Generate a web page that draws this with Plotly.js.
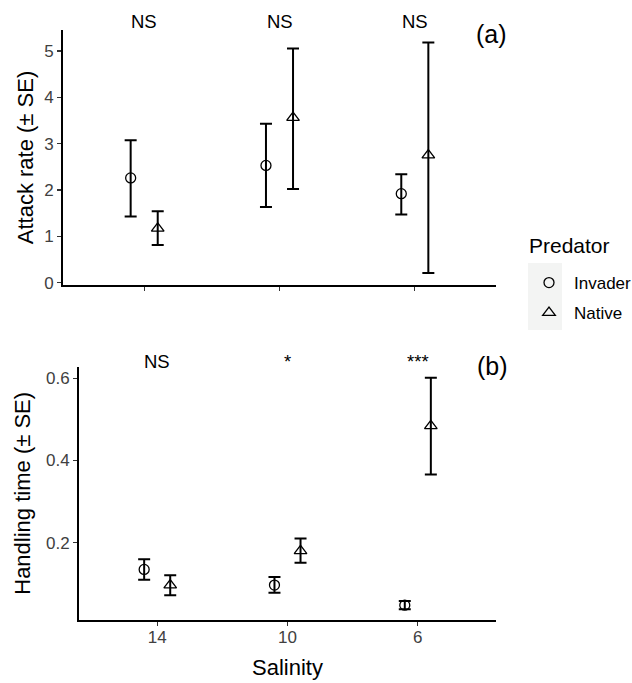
<!DOCTYPE html>
<html>
<head>
<meta charset="utf-8">
<script src="https://cdn.plot.ly/plotly-3.0.1.min.js"></script>
<style>html,body{margin:0;padding:0;background:#fff;}#chart{width:632px;height:683px;}</style>
</head>
<body>
<div id="chart"></div>
<script>
// ---- data ----
const salinity = ["14", "10", "6"];
const predators = ["Invader", "Native"];
const legendTitle = "Predator";

// Panel (a): attack rate
const attackInvader = [2.26, 2.53, 1.92];
const attackInvaderHi = [3.07, 3.43, 2.34];
const attackInvaderLo = [1.43, 1.63, 1.47];
const attackNative = [1.17, 3.56, 2.75];
const attackNativeHi = [1.54, 5.05, 5.18];
const attackNativeLo = [0.815, 2.02, 0.21];

// Panel (b): handling time
const handInvader = [0.135, 0.097, 0.048];
const handInvaderHi = [0.160, 0.1165, 0.058];
const handInvaderLo = [0.110, 0.078, 0.038];
const handNative = [0.097, 0.180, 0.484];
const handNativeHi = [0.121, 0.210, 0.601];
const handNativeLo = [0.072, 0.151, 0.366];

// significance labels
const sigA = ["NS", "NS", "NS"];
const sigB = ["NS", "*", "***"];

// ---- helpers ----
const DODGE = 0.1;
const FONT = "Liberation Sans, Arial, Helvetica, sans-serif";
const idx = salinity.map((_, i) => i + 1);
const W = 632, H = 683;
const px = v => v / W;
const py = v => (H - v) / H;

function trace(name, mean, hi, lo, off, symbol, size, xa, ya, showleg) {
  return {
    type: "scatter", mode: "markers", name: name, legendgroup: name,
    showlegend: showleg,
    x: idx.map(v => v + off), y: mean,
    xaxis: xa, yaxis: ya,
    marker: {symbol: symbol, size: size, color: "black", line: {color: "black", width: 1.3}},
    error_y: {type: "data", symmetric: false,
      array: hi.map((h, i) => h - mean[i]),
      arrayminus: lo.map((l, i) => mean[i] - l),
      color: "black", thickness: 2, width: 6},
    hoverinfo: "x+y"
  };
}

const data = [
  trace(predators[0], attackInvader, attackInvaderHi, attackInvaderLo, -DODGE, "circle-open", 10, "x", "y", true),
  trace(predators[1], attackNative, attackNativeHi, attackNativeLo, DODGE, "triangle-up-open", 11, "x", "y", true),
  trace(predators[0], handInvader, handInvaderHi, handInvaderLo, -DODGE, "circle-open", 10, "x2", "y2", false),
  trace(predators[1], handNative, handNativeHi, handNativeLo, DODGE, "triangle-up-open", 11, "x2", "y2", false)
];

const axisCommon = {
  showgrid: false, zeroline: false, showline: true, linecolor: "black", linewidth: 2,
  ticks: "outside", ticklen: 4, tickwidth: 1.3, tickcolor: "#333333",
  tickfont: {family: FONT, size: 17, color: "#404040"}, automargin: false
};

const annotations = [];
sigA.forEach((s, i) => annotations.push({
  text: s, x: idx[i], xref: "x", y: py(22), yref: "paper", showarrow: false,
  xanchor: "center", yanchor: "middle", font: {family: FONT, size: 18.5, color: "black"}
}));
sigB.forEach((s, i) => annotations.push({
  text: s, x: idx[i], xref: "x2", y: py(361.5), yref: "paper", showarrow: false,
  xanchor: "center", yanchor: "middle", font: {family: FONT, size: 18.5, color: "black"}
}));
annotations.push({text: "(a)", x: px(491), y: py(34), xref: "paper", yref: "paper", showarrow: false,
  xanchor: "center", yanchor: "middle", font: {family: FONT, size: 25, color: "black"}});
annotations.push({text: "(b)", x: px(492), y: py(366), xref: "paper", yref: "paper", showarrow: false,
  xanchor: "center", yanchor: "middle", font: {family: FONT, size: 25, color: "black"}});
annotations.push({text: legendTitle, x: px(527), y: py(245), xref: "paper", yref: "paper", showarrow: false,
  xanchor: "left", yanchor: "middle", font: {family: FONT, size: 21, color: "black"}});

const layout = {
  width: W, height: H,
  margin: {l: 0, r: 0, t: 0, b: 0, autoexpand: false},
  paper_bgcolor: "white", plot_bgcolor: "white",
  font: {family: FONT, color: "black"},
  xaxis: Object.assign({}, axisCommon, {
    domain: [px(63), px(496)], range: [0.4, 3.6], anchor: "y",
    tickvals: idx, ticktext: salinity, showticklabels: false
  }),
  yaxis: Object.assign({}, axisCommon, {
    domain: [py(285), py(30)], range: [-0.05, 5.45], anchor: "x",
    tickvals: [0, 1, 2, 3, 4, 5],
    title: {text: "Attack rate (± SE)", font: {family: FONT, size: 22, color: "black"}, standoff: 4}
  }),
  xaxis2: Object.assign({}, axisCommon, {
    domain: [px(79), px(496)], range: [0.4, 3.6], anchor: "y2",
    tickvals: idx, ticktext: salinity, ticklabelstandoff: -3,
    title: {text: "Salinity", font: {family: FONT, size: 22, color: "black"}, standoff: 13}
  }),
  yaxis2: Object.assign({}, axisCommon, {
    domain: [py(620), py(366.7)], range: [0.012, 0.628], anchor: "x2",
    tickvals: [0.2, 0.4, 0.6], ticktext: ["0.2", "0.4", "0.6"],
    title: {text: "Handling time (± SE)", font: {family: FONT, size: 22, color: "black"}, standoff: 9}
  }),
  showlegend: true,
  legend: {
    x: px(524), y: py(265), xanchor: "left", yanchor: "top",
    bgcolor: "rgba(0,0,0,0)", borderwidth: 0,
    font: {family: FONT, size: 17, color: "black"},
    tracegroupgap: 5, itemwidth: 40
  },
  shapes: [{
    type: "rect", xref: "paper", yref: "paper", layer: "below",
    x0: px(528), x1: px(562), y0: py(330), y1: py(263),
    fillcolor: "#F3F4F3", line: {width: 0}
  }],
  annotations: annotations
};

Plotly.newPlot("chart", data, layout, {displayModeBar: false, staticPlot: true});
</script>
</body>
</html>
